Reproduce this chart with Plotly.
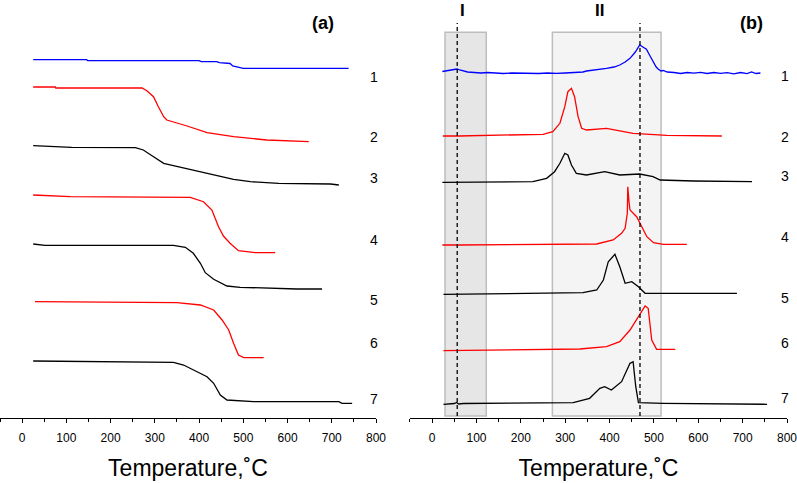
import plotly.graph_objects as go

# ---------------- Panel (a): TG curves (temperature, signal a.u.) ----------------
a1_T = [25, 146, 148, 400, 405, 440, 446, 470, 476, 495, 500, 738]
a1_y = [358.3, 358.3, 357.3, 357.3, 356.3, 356.3, 355.3, 354.5, 352, 350.5, 349.7, 349.7]
a2_T = [25, 75, 76, 271, 282, 297, 308, 320, 327, 350, 373, 418, 478, 553, 648]
a2_y = [331, 331, 330, 330, 327.3, 321.3, 311.3, 301.3, 298, 295, 292, 285.3, 281.3, 278, 276.3]
a3_T = [25, 112, 256, 274, 297, 320, 342, 403, 478, 516, 580, 697, 716]
a3_y = [272.3, 270.7, 270.3, 268, 261.3, 254.7, 252.3, 246.3, 238.7, 236.3, 234.7, 234, 233]
a4_T = [25, 109, 380, 410, 429, 444, 455, 470, 489, 527, 572]
a4_y = [223, 221.3, 220.7, 216.3, 208, 191.3, 182, 174.7, 167.3, 165.3, 165.3]
a5_T = [25, 52, 342, 369, 387, 403, 414, 433, 463, 493, 621, 678]
a5_y = [174, 172.7, 172.7, 170.7, 164.7, 154.7, 145.3, 138.7, 132, 130.7, 129, 129]
a6_T = [29, 350, 403, 433, 452, 467, 478, 489, 501, 546]
a6_y = [116.3, 115.3, 113, 108, 98, 88, 74.7, 63, 60.3, 60.3]
a7_T = [25, 301, 342, 365, 387, 418, 433, 448, 463, 523, 716, 723, 746]
a7_y = [57, 55.7, 55.7, 53, 48, 41.3, 34.7, 23, 18, 16.3, 16.3, 14.7, 14.7]

# ---------------- Panel (b): DTG curves ----------------
b1_T = [23, 35, 45, 56, 62, 70, 80, 95, 110, 125, 140, 160, 180, 200, 220, 240, 260, 280, 300,
        320, 340, 348, 370, 393, 410, 423, 435, 446, 458, 468, 475, 483, 490, 498, 505, 510, 516,
        521, 530, 545, 560, 575, 590, 605, 620, 635, 650, 665, 680, 695, 710, 720, 730, 740]
b1_y = [346.5, 347.5, 348, 349, 348, 347, 346, 345.5, 345, 345.5, 345, 344.5, 345, 344.8, 345,
        344.5, 345, 344.6, 345, 345.5, 346, 347, 348, 349.7, 351, 353, 356, 359.7, 366, 373, 371,
        368.7, 363, 356.3, 351, 348.7, 347, 347.5, 346, 345.5, 344.5, 345.5, 344.8, 345.6, 344.5,
        345.5, 344.7, 345.4, 344.2, 345.5, 344.3, 346, 344.5, 345]
b2_T = [24, 56, 60, 250, 272, 288, 299, 306, 314, 321, 329, 337, 348, 393, 423, 453, 529, 653]
b2_y = [282, 282.5, 282, 283.7, 286.3, 294.7, 311.3, 326.3, 329.7, 321.3, 301.3, 289.7, 288,
        289.7, 287, 284.7, 282.7, 282]
b3_T = [23, 227, 258, 276, 288, 299, 306, 314, 325, 348, 389, 423, 468, 498, 514, 589, 721]
b3_y = [235.7, 236.3, 239.7, 246.3, 254.7, 264.7, 263, 253, 244.7, 243, 246.3, 243, 244, 241.3,
        238, 237, 236.3]
b4_T = [23, 56, 60, 371, 408, 427, 435, 440, 441, 444, 446, 461, 472, 484, 499, 521, 574]
b4_y = [173, 173.5, 173, 174, 178, 184.7, 189.7, 205, 231.3, 215, 208, 201.3, 191.3, 181.3,
        175.3, 173.7, 173.7]
b5_T = [25.5, 340, 371, 386, 397, 412, 423, 435, 450, 465, 480, 687]
b5_y = [123.7, 125.3, 128, 138, 156.3, 163.7, 151.3, 134.7, 136.3, 131.3, 124.7, 124.7]
b6_T = [25.5, 333, 393, 423, 446, 465, 480, 487, 495, 506, 548]
b6_y = [67.3, 69, 71.3, 76.3, 88, 101.3, 112, 109.7, 78, 68.7, 68.7]
b7_T = [25.5, 50, 55, 60, 70, 235, 318, 355, 378, 389, 404, 427, 446, 453, 459, 465, 506, 521, 755]
b7_y = [13.7, 14.5, 15.5, 14, 14.5, 14.7, 15.3, 19.7, 29.7, 31.3, 28, 36.3, 54.7, 56.3, 31.3,
        15.3, 15.3, 14.7, 13.7]

curve_labels = ["1", "2", "3", "4", "5", "6", "7"]
label_y_a = [341.3, 281, 240, 178, 118, 74.7, 18.7]
label_y_b = [342, 281.3, 242, 181.3, 119.7, 74.7, 19.7]
colors = ["#0000ff", "#ff0000", "#000000", "#ff0000", "#000000", "#ff0000", "#000000"]

region_I = [29, 122]
region_II = [271, 516]
dashed_T = [56.5, 468.5]
tick_vals = [0, 100, 200, 300, 400, 500, 600, 700, 800]

fig = go.Figure()

# background regions in panel b
fig.add_shape(type="rect", xref="x2", yref="y2", x0=region_I[0], x1=region_I[1], y0=2, y1=385.7,
              fillcolor="#e6e6e6", line=dict(color="#bdbdbd", width=1.5), layer="below")
fig.add_shape(type="rect", xref="x2", yref="y2", x0=region_II[0], x1=region_II[1], y0=2, y1=385.7,
              fillcolor="#f4f4f4", line=dict(color="#bdbdbd", width=1.5), layer="below")
for t in dashed_T:
    fig.add_shape(type="line", xref="x2", yref="y2", x0=t, x1=t, y0=2, y1=395,
                  line=dict(color="black", width=1.3, dash="4px,3px"))

a_T = [a1_T, a2_T, a3_T, a4_T, a5_T, a6_T, a7_T]
a_y = [a1_y, a2_y, a3_y, a4_y, a5_y, a6_y, a7_y]
b_T = [b1_T, b2_T, b3_T, b4_T, b5_T, b6_T, b7_T]
b_y = [b1_y, b2_y, b3_y, b4_y, b5_y, b6_y, b7_y]

for i in range(7):
    fig.add_trace(go.Scatter(x=a_T[i], y=a_y[i], mode="lines", xaxis="x", yaxis="y",
                             line=dict(color=colors[i], width=1.3), showlegend=False))
    fig.add_trace(go.Scatter(x=b_T[i], y=b_y[i], mode="lines", xaxis="x2", yaxis="y2",
                             line=dict(color=colors[i], width=1.3), showlegend=False))

font_main = "Liberation Sans, Arial, sans-serif"
for i, lab in enumerate(curve_labels):
    fig.add_annotation(x=796, y=label_y_a[i], xref="x", yref="y", text=lab, showarrow=False,
                       font=dict(size=14, color="black", family=font_main))
    fig.add_annotation(x=796, y=label_y_b[i], xref="x2", yref="y2", text=lab, showarrow=False,
                       font=dict(size=14, color="black", family=font_main))

fig.add_annotation(x=681, y=395, xref="x", yref="y", text="<b>(a)</b>", showarrow=False,
                   font=dict(size=18, color="black", family=font_main))
fig.add_annotation(x=721, y=395, xref="x2", yref="y2", text="<b>(b)</b>", showarrow=False,
                   font=dict(size=18, color="black", family=font_main))
fig.add_annotation(x=69, y=408, xref="x2", yref="y2", text="<b>I</b>", showarrow=False,
                   font=dict(size=17, color="black", family=font_main))
fig.add_annotation(x=378, y=408, xref="x2", yref="y2", text="<b>II</b>", showarrow=False,
                   font=dict(size=17, color="black", family=font_main))

xaxis_common = dict(range=[-50, 800], tickvals=tick_vals, showline=True, linecolor="black",
                    linewidth=1.2, ticks="outside", ticklen=4, tickwidth=1.2, tickcolor="black",
                    showgrid=False, zeroline=False, automargin=False,
                    ticklabeloverflow="allow", ticklabelstandoff=4,
                    minor=dict(dtick=50, tick0=0, ticks="outside", ticklen=3, tickcolor="black",
                               tickwidth=1, showgrid=False),
                    tickfont=dict(size=12, color="black", family=font_main),
                    title=dict(text="Temperature,˚C", font=dict(size=23, color="black", family=font_main),
                               standoff=16))
yaxis_common = dict(range=[0, 418], visible=False, fixedrange=True, automargin=False)

fig.update_layout(
    width=797, height=483,
    margin=dict(l=0, r=0, t=0, b=65, autoexpand=False),
    paper_bgcolor="white", plot_bgcolor="rgba(0,0,0,0)",
    xaxis=dict(domain=[0, 0.4718], anchor="y", **xaxis_common),
    xaxis2=dict(domain=[0.5144, 0.9875], anchor="y2", **xaxis_common),
    yaxis=dict(anchor="x", **yaxis_common),
    yaxis2=dict(anchor="x2", **yaxis_common),
)

fig.write_html("out.html", config={"displayModeBar": False},
               post_script="document.body.style.margin='0px';")
